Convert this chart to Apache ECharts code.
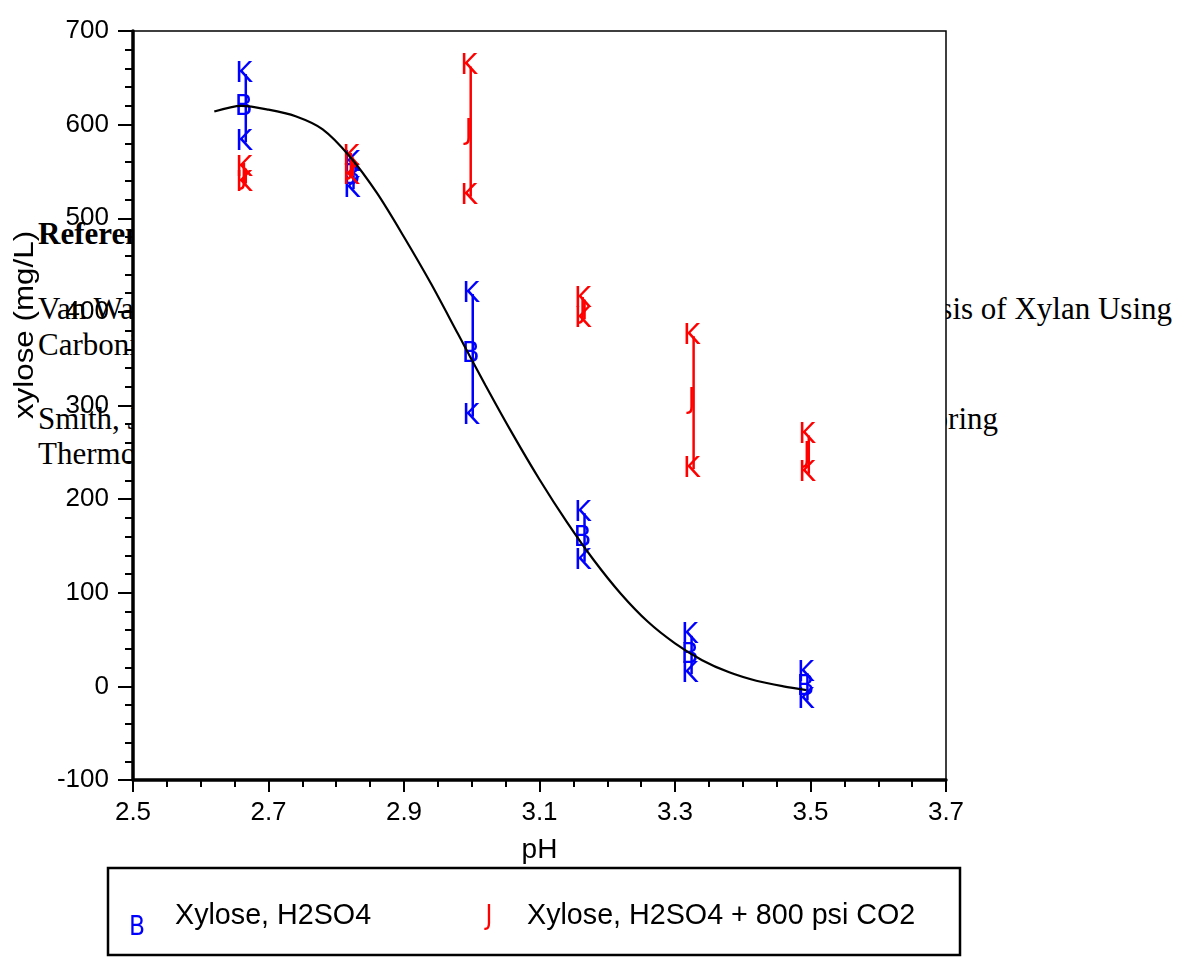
<!DOCTYPE html>
<html><head><meta charset="utf-8">
<script src="https://cdn.jsdelivr.net/npm/echarts@6/dist/echarts.min.js"></script>
<style>
html,body{margin:0;padding:0;background:#fff;}
#wrap{position:relative;width:1183px;height:957px;overflow:hidden;}
#c{position:absolute;left:0;top:0;width:1183px;height:957px;z-index:1;}
.ref{position:absolute;z-index:0;font-family:"Liberation Serif","Times New Roman",serif;font-size:31px;line-height:31px;white-space:nowrap;color:#000;}
</style></head>
<body><div id="wrap"><div id="c"></div></div>
<script>
// ---- data ----
const seriesNames = ['Xylose, H2SO4', 'Xylose, H2SO4 + 800 psi CO2'];

const phH2SO4 = [2.665, 2.824, 3.0, 3.165, 3.323, 3.494];
const xyloseH2SO4 = [618, 545, 354, 158, 33, -1];
const xyloseH2SO4Low = [581, 531, 288, 133, 13, -15];
const xyloseH2SO4High = [654, 559, 419, 185, 54, 14];

const phCO2 = [2.665, 2.823, 2.997, 3.165, 3.326, 3.496];
const xyloseCO2 = [545, 555, 593, 402, 305, 248];
const xyloseCO2Low = [537, 545, 523, 392, 232, 227];
const xyloseCO2High = [553, 565, 662, 413, 374, 268];

// fitted curve, points
const fitPH = [2.62, 2.66, 2.70, 2.74, 2.78, 2.82, 2.86, 2.90, 2.94, 2.98, 3.02, 3.06, 3.10, 3.14, 3.18, 3.22, 3.26, 3.30, 3.34, 3.38, 3.42, 3.46, 3.494];
const fitXylose = [614, 620, 616, 609, 595, 566, 527, 480, 430, 376, 322, 270, 221, 176, 135, 99, 69, 46, 28, 15, 6, 0, -4];

// background reference text (left fragments and right fragments)
const refLeft = [
  {text: 'References', bold: true, baseline: 244},
  {text: 'Van Walsum, G.P. et al.', baseline: 319},
  {text: 'Carbonic Acid Enhancement', baseline: 355},
  {text: 'Smith, J.M. et al.', baseline: 429},
  {text: 'Thermochemical', baseline: 464}
];
const refRight = [
  {text: 'Hydrolysis of Xylan Using', baseline: 319, right: 1172},
  {text: 'Monitoring', baseline: 429, right: 998}
];

// ---- background text layer ----
const wrap = document.getElementById('wrap');
refLeft.forEach(r => {
  const d = document.createElement('div');
  d.className = 'ref';
  d.textContent = r.text;
  d.style.left = '38px';
  d.style.top = (r.baseline - 26) + 'px';
  if (r.bold) d.style.fontWeight = 'bold';
  wrap.appendChild(d);
});
refRight.forEach(r => {
  const d = document.createElement('div');
  d.className = 'ref';
  d.textContent = r.text;
  d.style.right = (1183 - r.right) + 'px';
  d.style.top = (r.baseline - 26) + 'px';
  wrap.appendChild(d);
});

const markFont = '29px "Liberation Sans Narrow", "DejaVu Sans Condensed", "Liberation Sans", sans-serif';
const BLUE = '#0000ff', RED = '#ff0000';

function errorItem(color, mark) {
  return function (params, api) {
    const x = api.value(0);
    const pm = api.coord([x, api.value(1)]);
    const pl = api.coord([x, api.value(2)]);
    const ph = api.coord([x, api.value(3)]);
    const t = (p, s) => ({
      type: 'text', x: p[0] - 1, y: p[1],
      style: {text: s, fill: color, font: markFont, align: 'center', verticalAlign: 'middle'}
    });
    return {
      type: 'group',
      children: [
        {type: 'line', shape: {x1: pm[0] + 1, y1: ph[1], x2: pm[0] + 1, y2: pl[1]},
         style: {stroke: color, lineWidth: 2.5}},
        t(ph, 'K'), t(pl, 'K'), t(pm, mark)
      ]
    };
  };
}

const dataH2SO4 = phH2SO4.map((p, i) => [p, xyloseH2SO4[i], xyloseH2SO4Low[i], xyloseH2SO4High[i]]);
const dataCO2 = phCO2.map((p, i) => [p, xyloseCO2[i], xyloseCO2Low[i], xyloseCO2High[i]]);
const dataFit = fitPH.map((p, i) => [p, fitXylose[i]]);

const tickFont = {fontFamily: '"Liberation Sans", Arial, sans-serif', fontSize: 26, color: '#000'};

const chart = echarts.init(document.getElementById('c'), null, {renderer: 'canvas'});
chart.setOption({
  backgroundColor: 'transparent',
  animation: false,
  grid: {left: 133, top: 31, width: 813, height: 749, show: true, backgroundColor: '#fff',
         borderColor: '#000', borderWidth: 1.5, containLabel: false},
  xAxis: {
    type: 'value', min: 2.5, max: 3.7, interval: 0.2,
    name: 'pH', nameLocation: 'middle', nameGap: 56,
    nameTextStyle: {fontFamily: '"Liberation Sans", Arial, sans-serif', fontSize: 28, color: '#000'},
    axisLine: {show: true, onZero: false, lineStyle: {color: '#000', width: 3.5}},
    axisTick: {show: true, inside: false, length: 12, lineStyle: {color: '#000', width: 2}},
    minorTick: {show: true, splitNumber: 4, length: 7, lineStyle: {color: '#000', width: 2}},
    axisLabel: Object.assign({margin: 20, formatter: v => v.toFixed(1)}, tickFont),
    splitLine: {show: false}
  },
  yAxis: {
    type: 'value', min: -100, max: 700, interval: 100,
    axisLine: {show: true, onZero: false, lineStyle: {color: '#000', width: 3.5}},
    axisTick: {show: true, inside: false, length: 15, lineStyle: {color: '#000', width: 2}},
    minorTick: {show: true, splitNumber: 5, length: 8, lineStyle: {color: '#000', width: 2}},
    axisLabel: Object.assign({margin: 24}, tickFont),
    splitLine: {show: false}
  },
  legend: [
    {data: [seriesNames[0]], left: 170, top: 902, padding: 0, icon: 'none', itemWidth: 0, itemHeight: 0,
     selectedMode: false, textStyle: {fontFamily: '"Liberation Sans", Arial, sans-serif', fontSize: 28.7, color: '#000'}},
    {data: [seriesNames[1]], left: 522, top: 902, padding: 0, icon: 'none', itemWidth: 0, itemHeight: 0,
     selectedMode: false, textStyle: {fontFamily: '"Liberation Sans", Arial, sans-serif', fontSize: 28.7, color: '#000'}}
  ],
  graphic: [
    {type: 'rect', shape: {x: 108, y: 868, width: 852, height: 87},
     style: {fill: 'none', stroke: '#000', lineWidth: 2.5}},
    {type: 'text', x: 137, y: 928, style: {text: 'B', fill: BLUE, font: '26px "Liberation Sans Narrow", "DejaVu Sans Condensed", sans-serif', align: 'center', verticalAlign: 'middle'}},
    {type: 'text', x: 489, y: 917, style: {text: 'J', fill: RED, font: '26px "Liberation Sans Narrow", "DejaVu Sans Condensed", sans-serif', align: 'center', verticalAlign: 'middle'}},
    {type: 'text', x: 25, y: 325, rotation: Math.PI / 2, scaleX: 1.12,
     style: {text: 'xylose (mg/L)', fill: '#000', font: '28px "Liberation Sans", Arial, sans-serif', align: 'center', verticalAlign: 'middle'}}
  ],
  series: [
    {name: seriesNames[0], type: 'custom', data: dataH2SO4, renderItem: errorItem(BLUE, 'B'),
     encode: {x: 0, y: [1, 2, 3]}, itemStyle: {color: BLUE}, z: 2, clip: false},
    {name: seriesNames[1], type: 'custom', data: dataCO2, renderItem: errorItem(RED, 'J'),
     encode: {x: 0, y: [1, 2, 3]}, itemStyle: {color: RED}, z: 3, clip: false},
    {name: 'fit', type: 'line', data: dataFit, smooth: 0.3, symbol: 'none', showSymbol: false,
     lineStyle: {color: '#000', width: 2.2}, z: 4, silent: true}
  ]
});
</script></body></html>
